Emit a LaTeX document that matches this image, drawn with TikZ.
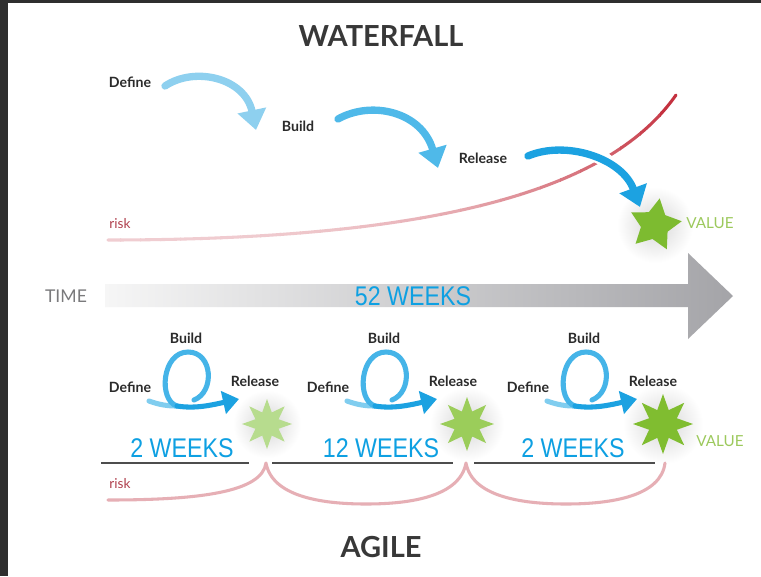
\documentclass[tikz,border=0pt]{standalone}
\usepackage{fontspec}
\setmainfont{Lato}
\newfontfamily\condfont[FakeStretch=0.86]{Liberation Sans}
\usetikzlibrary{arrows.meta,shapes.geometric}

\definecolor{frame}{HTML}{2E2E2E}
\definecolor{ink}{HTML}{2B2B2B}
\definecolor{titleink}{HTML}{383838}
\definecolor{timegray}{HTML}{7A7A7C}
\definecolor{wblue}{HTML}{0EA0E2}
\definecolor{blueA}{HTML}{8ED0EF}
\definecolor{blueB}{HTML}{4FB9E9}
\definecolor{blueC}{HTML}{1CA2E1}
\definecolor{loopblue}{HTML}{45B4E8}
\definecolor{tailblue}{HTML}{80CDEF}
\definecolor{risklight}{HTML}{F0CDD1}
\definecolor{riskdark}{HTML}{C4313F}
\definecolor{riskagile}{HTML}{E6AFB5}
\definecolor{risktext}{HTML}{B0404E}
\definecolor{valgreen}{HTML}{9CC95C}
\definecolor{starW}{HTML}{7DBB30}
\definecolor{starA}{HTML}{B7DC8E}
\definecolor{starB}{HTML}{9BCD5A}
\definecolor{starC}{HTML}{80BD30}
\definecolor{rule}{HTML}{4D4D4D}
\definecolor{timeL}{HTML}{F6F6F6}
\definecolor{timeR}{HTML}{A4A4A8}

\begin{document}
\begin{tikzpicture}[x=0.75pt,y=-0.75pt,
  ttl/.style={text=titleink,font=\fontsize{21.75}{26}\selectfont\bfseries,inner sep=0pt},
  lbl/.style={text=ink,font=\fontsize{10.6}{12}\selectfont\bfseries,inner sep=0pt},
  risklbl/.style={text=risktext,font=\fontsize{10.2}{12}\selectfont,inner sep=0pt},
  vallbl/.style={text=valgreen,font=\fontsize{11.4}{13}\selectfont,inner sep=0pt},
  weeks/.style={text=wblue,font=\condfont\fontsize{20.25}{24}\selectfont,inner sep=0pt},
  warrow/.style={line width=5.5pt,line cap=round,-{Triangle[length=15pt,width=21pt]}},
  aarrow/.style={line width=3.8pt,line cap=round,-{Triangle[length=12pt,width=17pt]}},
  loopline/.style={line width=3.8pt,line cap=round},
  riskw/.style={line width=2.3pt,line cap=round},
  agstar/.style={star,star points=8,star point ratio=2.0,inner sep=0pt,draw=none},
  glow/.style={inner color=black!16,outer color=white}
]
\useasboundingbox (0,0) rectangle (761,576);
\fill[white] (0,0) rectangle (761,576);
\fill[frame] (0,0) rectangle (8,576);
\fill[frame] (0,0) rectangle (761,3);

% ---------- glows ----------
\shade[glow] (655,225) circle (38);
\shade[glow] (267,424) circle (34);
\shade[glow] (467,424) circle (37);
\shade[glow] (663,424) circle (40);

% ---------- WATERFALL ----------
\node[ttl] (wtitle) at (381,36) {WATERFALL};
\node[lbl] (wdef) at (130,82) {Define};
\node[lbl] (wbuild) at (298,126) {Build};
\node[lbl] (wrel) at (483,158) {Release};
\node[risklbl] (wrisk) at (120,224) {risk};

% risk curve with gradient
\coordinate (r0) at (108,240);
\coordinate (r1) at (676,95);
\foreach \xa in {100,120,...,680} {
  \pgfmathsetmacro{\p}{min(100,100*((\xa-100)/560)^3)}
  \begin{scope}
    \clip (\xa,60) rectangle ({\xa+21},260);
    \draw[riskw,draw=riskdark!\p!risklight] (r0) .. controls (480,240) and (620,175) .. (r1);
  \end{scope}
}

% star and value
\node[star,star points=5,star point ratio=1.9,minimum size=40.5pt,inner sep=0pt,
      fill=starW,shape border rotate=-10] (wstar) at (655,225) {};
\node[vallbl] (wval) at (710,223) {VALUE};

% waterfall arrows
\coordinate (w1s) at (165,86);  \coordinate (w1e) at (256,130);
\coordinate (w2s) at (338,119); \coordinate (w2e) at (438,168);
\coordinate (w3s) at (528,156); \coordinate (w3e) at (640,207);
\draw[warrow,blueA] (w1s) .. controls (195,66) and (245,78) .. (w1e);
\draw[warrow,blueB] (w2s) .. controls (372,100) and (422,112) .. (w2e);
\draw[white,line width=11pt] (w3s) .. controls (566,140) and (606,151) .. (620,176);
\draw[warrow,blueC] (w3s) .. controls (566,140) and (622,158) .. (w3e);

% ---------- TIME ----------
\shade[left color=timeL,right color=timeR]
  (105,284) -- (688,284) -- (688,253) -- (733,296) -- (688,339) -- (688,307) -- (105,307) -- cycle;
\node[text=timegray,font=\fontsize{13.2}{15}\selectfont,inner sep=0pt] (time) at (66,296) {TIME};
\node[weeks] (w52) at (413,296) {52 WEEKS};

% ---------- AGILE loops ----------
\foreach \dx/\sc/\nm in {0/starA/a,198/starB/b,398/starC/c} {
  \begin{scope}[xshift=\dx*0.75pt]
    \node[lbl] (build\nm) at (186,338) {Build};
    \node[lbl] (def\nm) at (130,387) {Define};
    \node[lbl] (rel\nm) at (255,381) {Release};
    \coordinate (ts\nm) at (149,401);
    \coordinate (tm\nm) at (177,406);
    \coordinate (te\nm) at (239,399);
    \coordinate (le\nm) at (194,400);
    \draw[loopline,tailblue] (ts\nm) .. controls (160,405) and (168,406) .. (tm\nm);
    \draw[loopline,loopblue] (tm\nm) .. controls (158,400) and (162,352) .. (188,352)
          .. controls (213,352) and (215,392) .. (le\nm);
    \draw[white,line width=6.5pt] (185,407) -- (200,407);
    \draw[aarrow,blueC] (tm\nm) .. controls (195,409) and (212,405) .. (te\nm);
  \end{scope}
}

% agile stars
\node[agstar,fill=starA,minimum size=37.5pt] (sa) at (267,424) {};
\node[agstar,fill=starB,minimum size=40.5pt] (sb) at (467,424) {};
\node[agstar,fill=starC,minimum size=45pt] (sc) at (663,424) {};
\node[vallbl] (aval) at (720,441) {VALUE};

% week labels and underlines
\node[weeks] (k1) at (182,448) {2 WEEKS};
\node[weeks] (k2) at (381,448) {12 WEEKS};
\node[weeks] (k3) at (573,448) {2 WEEKS};
\coordinate (u1a) at (101,463); \coordinate (u1b) at (249,463);
\coordinate (u2a) at (272,463); \coordinate (u2b) at (453,463);
\coordinate (u3a) at (474,463); \coordinate (u3b) at (655,463);
\draw[rule,line width=1.5pt] (u1a) -- (u1b);
\draw[rule,line width=1.5pt] (u2a) -- (u2b);
\draw[rule,line width=1.5pt] (u3a) -- (u3b);

% agile risk
\node[risklbl] (arisk) at (120,484) {risk};
\coordinate (ar0) at (108,500);
\coordinate (c1) at (266,463);
\coordinate (c2) at (466,463);
\coordinate (c3) at (665,463);
\draw[riskw,riskagile,line join=round] (ar0) .. controls (200,500) and (262,492) .. (c1)
  .. controls (272,496) and (320,504) .. (366,504) .. controls (412,504) and (460,496) .. (c2)
  .. controls (472,496) and (520,504) .. (566,504) .. controls (612,504) and (661,496) .. (c3);

\node[ttl] (atitle) at (381,547) {AGILE};
\end{tikzpicture}
\end{document}
